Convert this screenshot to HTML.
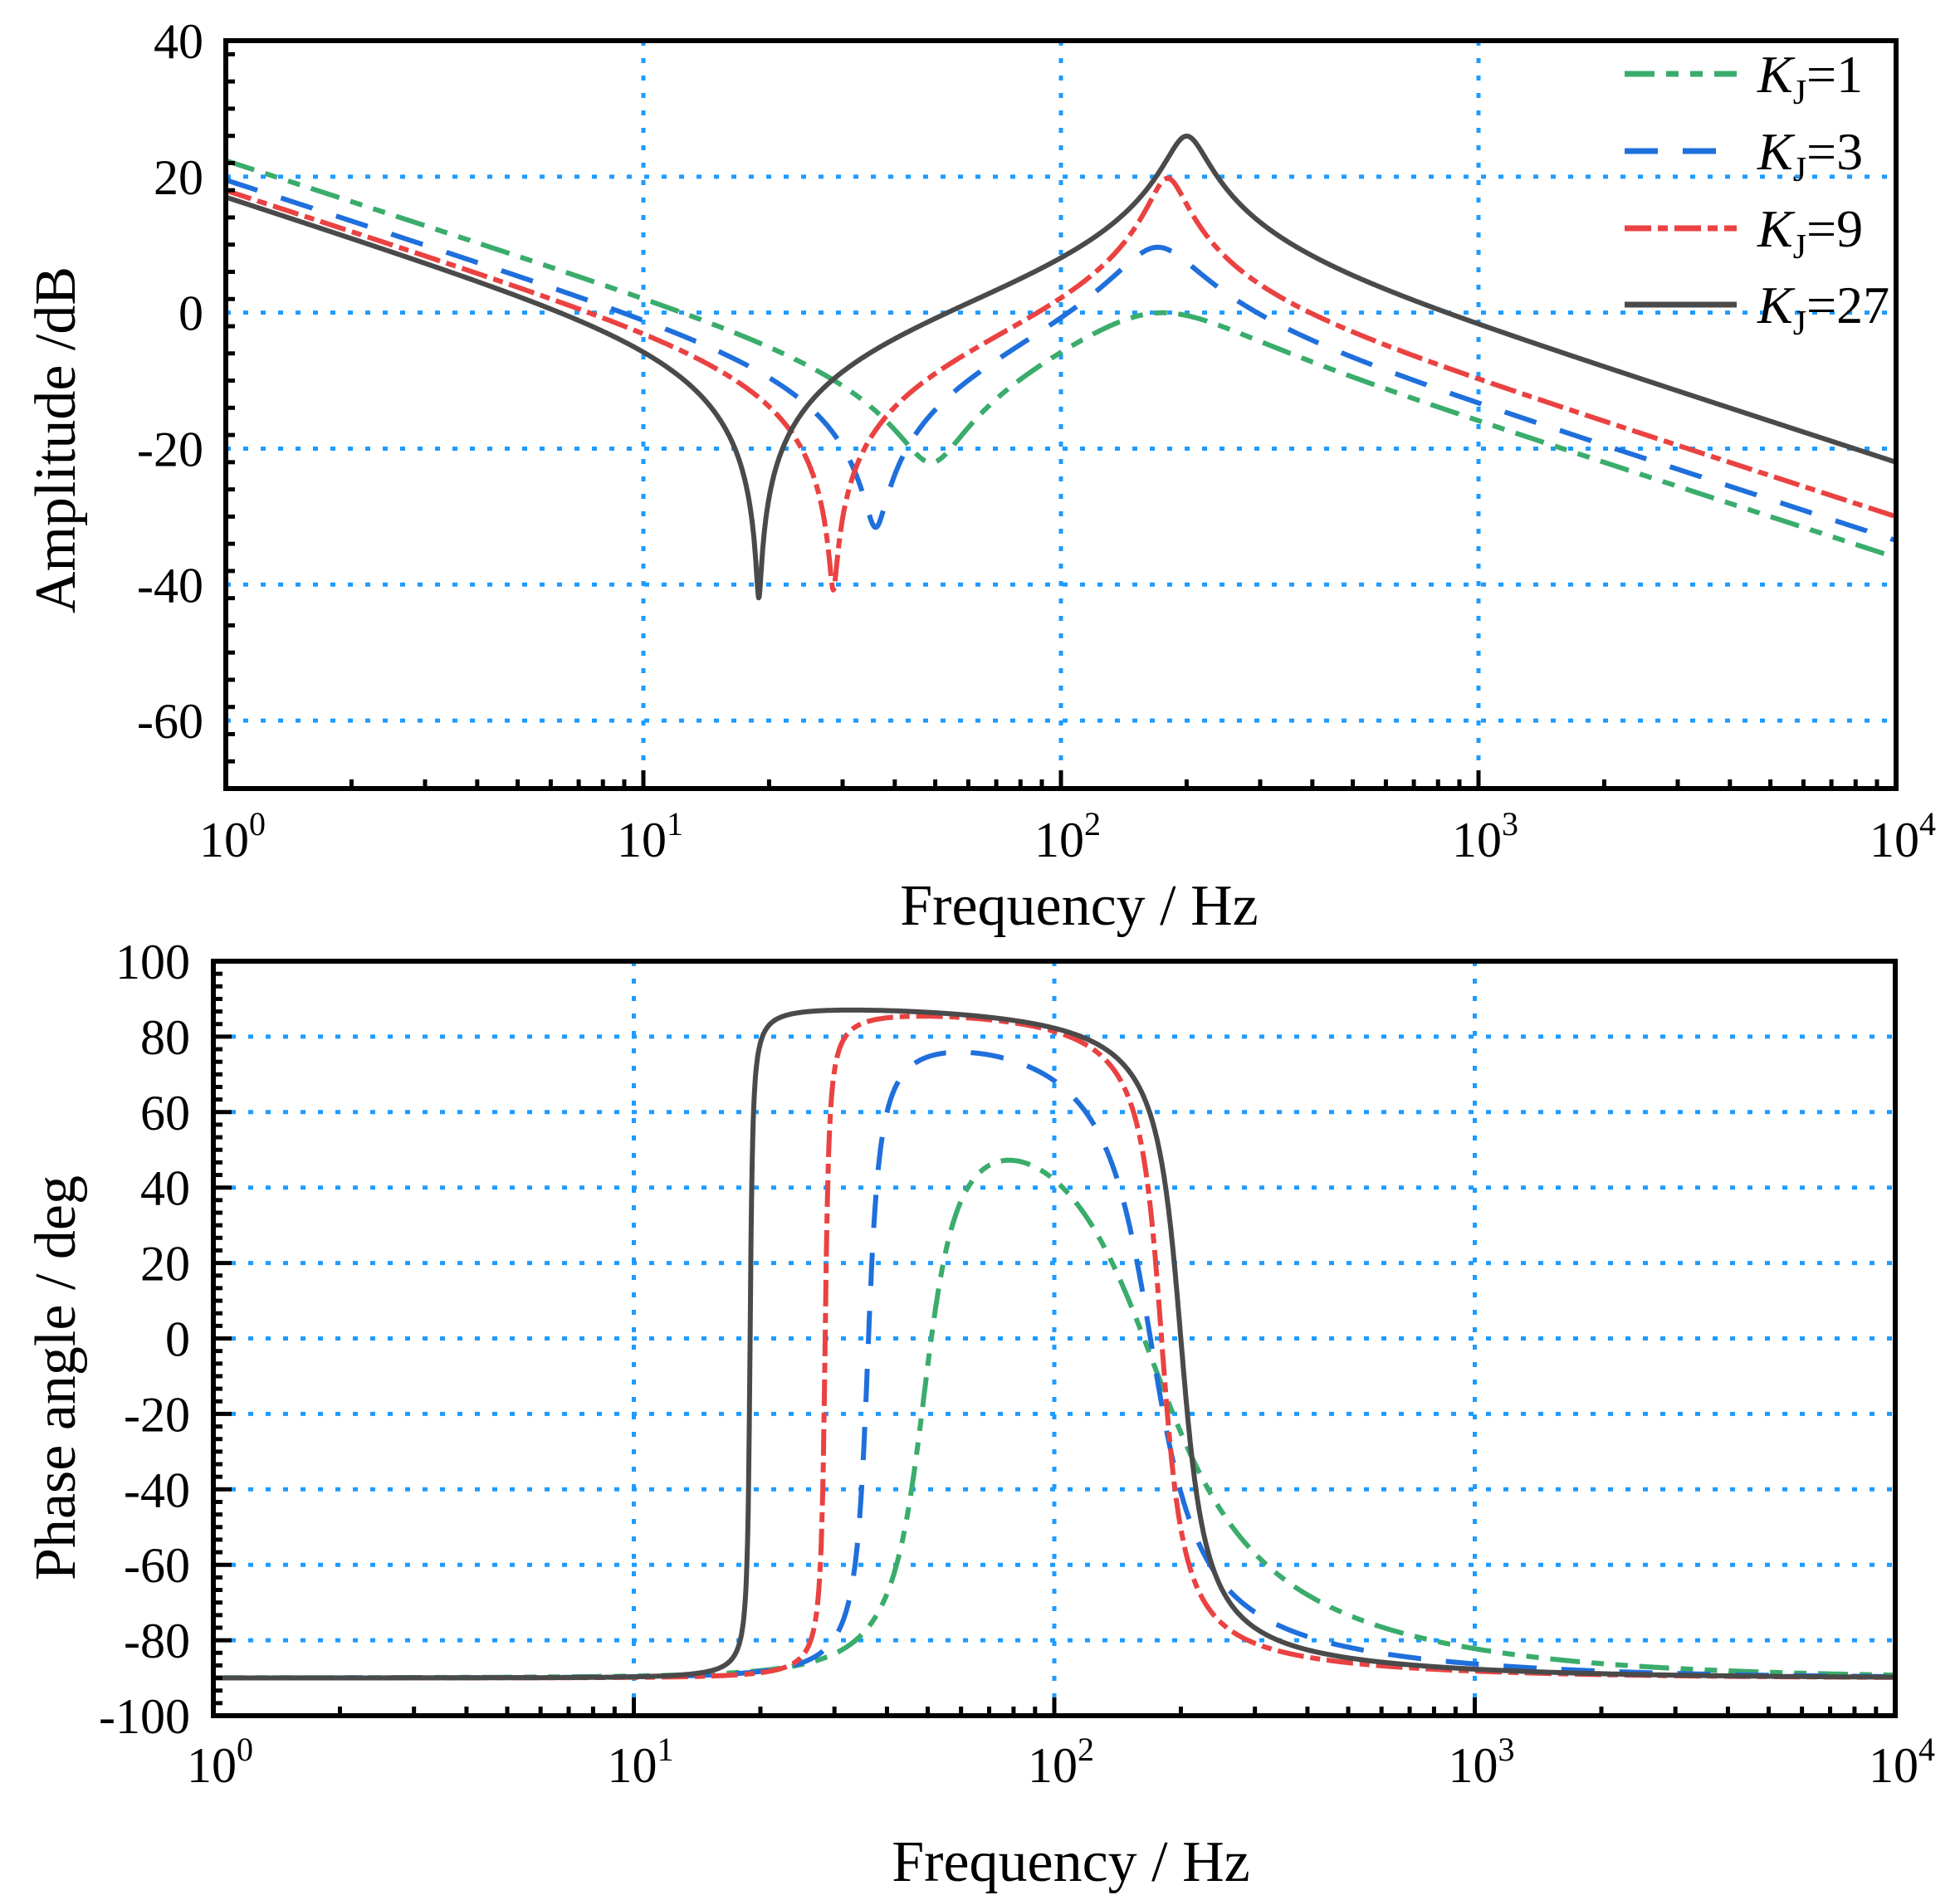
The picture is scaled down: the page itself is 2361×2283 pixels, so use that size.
<!DOCTYPE html>
<html><head><meta charset="utf-8"><style>
html,body{margin:0;padding:0;background:#fff;}
svg{display:block;}
text{font-family:"Liberation Serif",serif;fill:#000;}
</style></head><body>
<svg id="s" xmlns="http://www.w3.org/2000/svg" width="2361" height="2283" viewBox="0 0 2361 2283">
<defs>
<clipPath id="c1"><rect x="272" y="49" width="2012" height="901"/></clipPath>
<clipPath id="c2"><rect x="257" y="1158" width="2026" height="909"/></clipPath>
</defs>
<g id="grid"></g>
<g id="curves"></g>
<g id="axes"></g>
<g id="labels"></g>
</svg>
<script>
var NS="http://www.w3.org/2000/svg";
function el(p,t,a,txt){var e=document.createElementNS(NS,t);for(var k in a)e.setAttribute(k,a[k]);if(txt!==undefined)e.textContent=txt;p.appendChild(e);return e;}
var G=document.getElementById('grid'),C=document.getElementById('curves'),A=document.getElementById('axes'),L=document.getElementById('labels');
var P1={x0:272,x1:2284,y0:49,y1:950,vmin:-70,vmax:40},P2={x0:257,x1:2283,y0:1158,y1:2067,vmin:-100,vmax:100};
function X(P,f){return P.x0+Math.log10(f)/4*(P.x1-P.x0);}
function Y(P,v){return P.y1-(v-P.vmin)/(P.vmax-P.vmin)*(P.y1-P.y0);}
var gridStyle={stroke:"#1e9bff","stroke-width":5,"stroke-dasharray":"6 15",fill:"none"};
function grid(P,vals){
 for(var d=1;d<=3;d++){var x=X(P,Math.pow(10,d));var g=Object.assign({x1:x,x2:x,y1:P.y0,y2:P.y1},gridStyle);el(G,'line',g);}
 vals.forEach(function(v){var y=Y(P,v);el(G,'line',Object.assign({x1:P.x0,x2:P.x1,y1:y,y2:y},gridStyle));});
}
grid(P1,[20,0,-20,-40,-60]);
grid(P2,[80,60,40,20,0,-20,-40,-60,-80]);
function axes(P,major,minorStep,labX){
 el(A,'rect',{x:P.x0,y:P.y0,width:P.x1-P.x0,height:P.y1-P.y0,fill:"none",stroke:"#000","stroke-width":6});
 for(var d=0;d<4;d++){for(var m=1;m<10;m++){var f=m*Math.pow(10,d);var x=X(P,f);
   el(A,'line',{x1:x,x2:x,y1:P.y1,y2:P.y1-(m==1?22:11),stroke:"#000","stroke-width":5});}}
 for(var v=P.vmin;v<=P.vmax+1e-6;v+=minorStep){var y=Y(P,v);var isM=major.indexOf(Math.round(v))>=0;
   el(A,'line',{x1:P.x0,x2:P.x0+(isM?22:11),y1:y,y2:y,stroke:"#000","stroke-width":5});}
 major.forEach(function(v){el(L,'text',{x:labX,y:Y(P,v)+21,"text-anchor":"end","font-size":60},String(v));});
}
axes(P1,[40,20,0,-20,-40,-60],4,245);
axes(P2,[100,80,60,40,20,0,-20,-40,-60,-80,-100],20/6,229);
function xlabels(P,by){for(var d=0;d<=4;d++){var t=el(L,'text',{x:X(P,Math.pow(10,d))+8,y:by,"text-anchor":"middle","font-size":60});
 el(t,'tspan',{},"10");el(t,'tspan',{dy:-26,"font-size":40},String(d));}}
xlabels(P1,1032);xlabels(P2,2147);
el(L,'text',{x:1300,y:1114,"text-anchor":"middle","font-size":70},"Frequency / Hz");
el(L,'text',{x:1290,y:2266,"text-anchor":"middle","font-size":70},"Frequency / Hz");
el(L,'text',{x:0,y:0,"text-anchor":"middle","font-size":70,transform:"translate(90,530) rotate(-90)"},"Amplitude /dB");
el(L,'text',{x:0,y:0,"text-anchor":"middle","font-size":70,transform:"translate(90,1660) rotate(-90)"},"Phase angle / deg");
var S=[
 {G:158,fr:170,zr:0.43,fa:49,za:0.14,col:"#3aac6c",dash:"36 14 15 14 15 14",K:"1"},
 {G:211,fr:170,zr:0.196,fa:36,za:0.048,col:"#1f6fdc",dash:"40 30",K:"3"},
 {G:316,fr:180,zr:0.088,fa:28.5,za:0.016,col:"#ea4242",dash:"32 8 12 8",K:"9"},
 {G:794,fr:200,zr:0.099,fa:18.9,za:0.0105,col:"#4a4a4a",dash:"",K:"27"}
];
var g1=el(C,'g',{"clip-path":"url(#c1)"}),g2=el(C,'g',{"clip-path":"url(#c2)"});
S.forEach(function(s){
 var d1="",d2="";
 for(var i=0;i<=3000;i++){var f=Math.pow(10,i/750);
  var nr=s.fa*s.fa-f*f,ni=2*s.za*s.fa*f;
  var dr=s.fr*s.fr-f*f,di=2*s.zr*s.fr*f;
  var Dr=-f*di,Di=f*dr;
  var den=Dr*Dr+Di*Di;
  var hr=s.G*(nr*Dr+ni*Di)/den,hi=s.G*(ni*Dr-nr*Di)/den;
  var mag=20*Math.log10(Math.sqrt(hr*hr+hi*hi));
  var ph=Math.atan2(hi,hr)*180/Math.PI;
  d1+=(i?"L":"M")+X(P1,f).toFixed(1)+" "+Y(P1,mag).toFixed(1);
  d2+=(i?"L":"M")+X(P2,f).toFixed(1)+" "+Y(P2,ph).toFixed(1);
 }
 var st={fill:"none",stroke:s.col,"stroke-width":6,"stroke-linejoin":"round"};
 if(s.dash)st["stroke-dasharray"]=s.dash;
 el(g1,'path',Object.assign({d:d1},st));el(g2,'path',Object.assign({d:d2},st));
});
var ly=[89,182,275,367];
S.forEach(function(s,i){
 var st={x1:1957,x2:2092,y1:ly[i],y2:ly[i],stroke:s.col,"stroke-width":7};
 if(s.dash)st["stroke-dasharray"]=s.dash;
 el(L,'line',st);
 var t=el(L,'text',{x:2117,y:ly[i]+22,"font-size":64});
 el(t,'tspan',{"font-style":"italic"},"K");
 el(t,'tspan',{dy:14,"font-size":42},"J");
 el(t,'tspan',{dy:-14},"="+s.K);
});
</script>
</body></html>
